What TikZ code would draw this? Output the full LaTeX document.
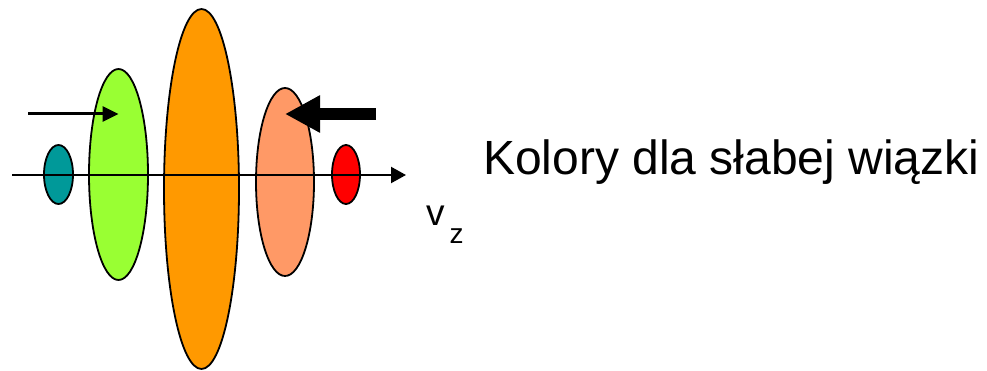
\documentclass[tikz,border=0pt]{standalone}
\usepackage{fontspec}
\setmainfont{Liberation Sans}
\usetikzlibrary{shapes.geometric,arrows.meta}
\definecolor{morski}{RGB}{0,153,153}
\definecolor{zielony}{RGB}{153,255,51}
\definecolor{pomarancz}{RGB}{255,153,0}
\definecolor{lososiowy}{RGB}{255,153,102}
\definecolor{czerwony}{RGB}{255,0,0}
\begin{document}
\begin{tikzpicture}[x=1pt, y=-1pt, plamka/.style={ellipse, draw, line width=1.8pt, inner sep=0pt}]
        \useasboundingbox (0,0) rectangle (987,371);
        % Plamki wzdłuż osi
        \node[plamka, fill=morski, minimum width=29pt, minimum height=59pt] (a) at (58.5,174.5) {};
        \node[plamka, fill=zielony, minimum width=59pt, minimum height=211pt] (b) at (118.5,174.5) {};
        \node[plamka, fill=pomarancz, minimum width=75pt, minimum height=360pt] (c) at (201.5,189) {};
        \node[plamka, fill=lososiowy, minimum width=58pt, minimum height=188pt] (d) at (285,182) {};
        \node[plamka, fill=czerwony, minimum width=28pt, minimum height=59pt] (e) at (346,174.5) {};

        % Oś v_z
        \coordinate (os0) at (12,175);
        \coordinate (os1) at (406,175);
        \draw[line width=2.2pt, -{Triangle[length=15pt,width=16pt]}] (os0) -- (os1);

        % Strzałki
        \coordinate (s0) at (28,114);
        \coordinate (s1) at (b.center |- s0);
        \draw[line width=3pt, -{Triangle[length=16pt,width=15pt]}] (s0) -- (s1);
        \coordinate (t0) at (376,114);
        \coordinate (t1) at (d.center |- t0);
        \draw[line width=12pt, -{Triangle[length=35pt,width=35pt]}] (t0) -- (t1);

        % Podpisy
        \node[anchor=base west, inner sep=0pt, font=\fontsize{37}{44}\selectfont] (vz) at (426,225.5) {v\kern5pt\raisebox{-18.5pt}{\fontsize{28}{32}\selectfont z}};
        \node[anchor=base west, inner sep=0pt, font=\fontsize{48}{58}\selectfont] (opis) at (483,175) {Kolory dla słabej wiązki};
    \end{tikzpicture}
\end{document}
